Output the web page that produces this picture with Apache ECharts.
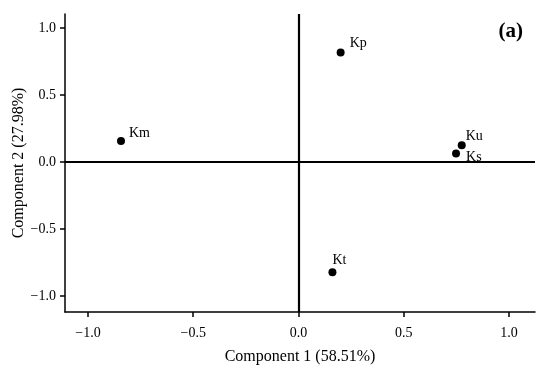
<!DOCTYPE html>
<html><head><meta charset="utf-8">
<script src="https://cdn.jsdelivr.net/npm/echarts@6/dist/echarts.min.js"></script>
<style>html,body{margin:0;padding:0;background:#fff}#c{width:550px;height:376px}</style>
</head><body><div id="c"></div>
<script>
const names = ['Km','Kp','Ku','Ks','Kt'];
const comp1 = [-0.843, 0.200, 0.775, 0.748, 0.161];
const comp2 = [0.157, 0.816, 0.124, 0.062, -0.823];
const tickValues = [-1.0, -0.5, 0.0, 0.5, 1.0];

const labelOffsets = {Km:[4,-8], Kp:[5,-9], Ku:[0,-9], Ks:[6,4], Kt:[-4,-12]};
const font = '"Liberation Serif", "DejaVu Serif", serif';
const fmt = v => (v < 0 ? '\u2212' : '') + Math.abs(v).toFixed(1);

const data = names.map((n,i) => ({
  name: n, value: [comp1[i], comp2[i]],
  label: {offset: labelOffsets[n]}
}));

const chart = echarts.init(document.getElementById('c'));
chart.setOption({
  animation: false,
  backgroundColor: '#fff',
  title: {text: '(a)', right: 22, top: 16, textStyle: {fontFamily: font, fontWeight: 'bold', fontSize: 21, color: '#000'}},
  grid: {left: 65, right: 15, top: 14, bottom: 64, containLabel: false, outerBoundsMode: 'none'},
  xAxis: {
    type: 'value', min: -1.109, max: 1.123,
    name: 'Component 1 (58.51%)', nameLocation: 'middle', nameGap: 37, nameMoveOverlap: false,
    nameTextStyle: {fontFamily: font, fontSize: 16, color: '#000'},
    axisLine: {show: true, onZero: false, lineStyle: {color: '#000', width: 1.5}},
    axisTick: {show: true, length: 5, customValues: tickValues, lineStyle: {color: '#000', width: 1.5}},
    axisLabel: {customValues: tickValues, formatter: fmt, margin: 14, fontFamily: font, fontSize: 14, color: '#000'},
    splitLine: {show: false}
  },
  yAxis: {
    type: 'value', min: -1.12, max: 1.104,
    name: 'Component 2 (27.98%)', nameLocation: 'middle', nameGap: 38, nameMoveOverlap: false,
    nameTextStyle: {fontFamily: font, fontSize: 16, color: '#000'},
    axisLine: {show: true, onZero: false, lineStyle: {color: '#000', width: 1.5}},
    axisTick: {show: true, length: 5, customValues: tickValues, lineStyle: {color: '#000', width: 1.5}},
    axisLabel: {customValues: tickValues, formatter: fmt, margin: 9, fontFamily: font, fontSize: 14, color: '#000'},
    splitLine: {show: false}
  },
  series: [{
    type: 'scatter', symbolSize: 8, itemStyle: {color: '#000', opacity: 1},
    data: data,
    label: {show: true, position: 'right', distance: 0, formatter: '{b}', fontFamily: font, fontSize: 14, color: '#000', align: 'left'},
    markLine: {
      silent: true, symbol: 'none', animation: false,
      label: {show: false},
      lineStyle: {color: '#000', width: 2.2, type: 'solid', opacity: 1},
      data: [{xAxis: 0}, {yAxis: 0}]
    }
  }]
});
</script></body></html>
